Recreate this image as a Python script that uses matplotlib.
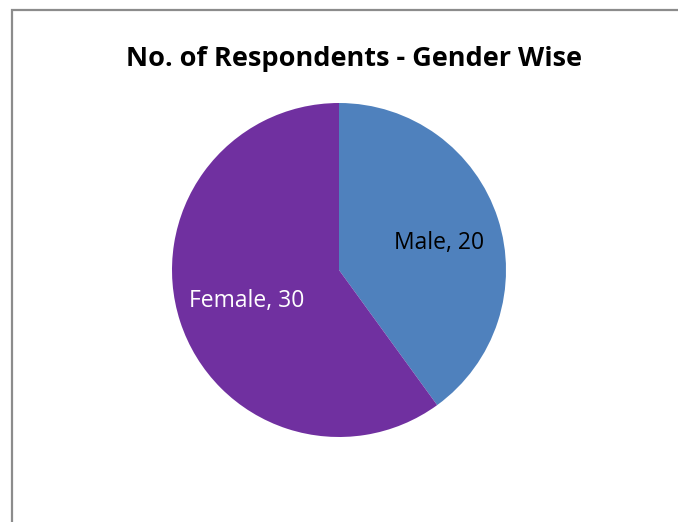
import matplotlib.pyplot as plt
from matplotlib.patches import Rectangle

genders = ["Male", "Female"]
respondents = [20, 30]
colors = ["#4F81BD", "#7030A0"]
label_colors = ["black", "white"]

W, H = 678, 522
fig = plt.figure(figsize=(W / 100, H / 100), dpi=100)
fig.patch.set_facecolor("white")

# chart frame, only the left and top edges fall inside the canvas
fig.add_artist(Rectangle((12 / W, -0.05), 1.05, (H - 10) / H + 0.05,
                         transform=fig.transFigure, fill=False,
                         edgecolor="#8c8c8c", linewidth=1.6))

cx, cy, r = 339, 270, 167
ax = fig.add_axes([(cx - r) / W, (H - cy - r) / H, 2 * r / W, 2 * r / H])
ax.pie(respondents, colors=colors, startangle=90, counterclock=False,
       radius=1, wedgeprops=dict(linewidth=0))
ax.set_xlim(-1, 1)
ax.set_ylim(-1, 1)
ax.set_aspect("equal")
ax.axis("off")

label_pos = [(0.60, 0.16), (-0.55, -0.183)]
for g, v, c, (x, y) in zip(genders, respondents, label_colors, label_pos):
    ax.text(x, y, f"{g}, {v}", color=c, fontsize=16.5, family="Open Sans",
            ha="center", va="center")

fig.text(353.5 / W, 1 - 59 / H, "No. of Respondents - Gender Wise",
         fontsize=19.5, fontweight="bold", family="Open Sans",
         ha="center", va="center")

fig.savefig("out.png", dpi=100)
